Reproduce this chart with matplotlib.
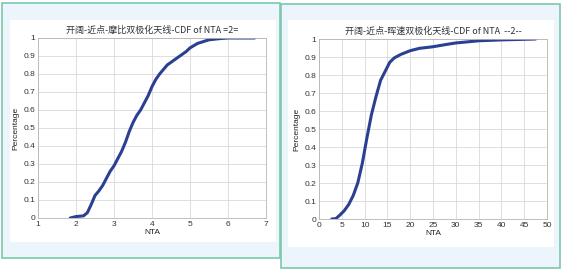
import numpy as np
import matplotlib.pyplot as plt
from matplotlib.patches import Rectangle

plt.rcParams['font.family'] = ['Liberation Sans', 'Noto Sans CJK SC', 'DejaVu Sans']

# left panel: 摩比 antenna
nta_a = [1.85, 2.0, 2.1, 2.2, 2.3, 2.4, 2.5, 2.6, 2.7, 2.8, 2.9, 3.0, 3.1, 3.2, 3.3,
         3.4, 3.5, 3.6, 3.7, 3.8, 3.9, 4.0, 4.1, 4.2, 4.3, 4.4, 4.5, 4.7, 4.9, 5.0,
         5.2, 5.5, 5.8, 6.0, 6.7]
cdf_a = [0.0, 0.008, 0.01, 0.012, 0.03, 0.075, 0.125, 0.15, 0.18, 0.22, 0.26, 0.29,
         0.33, 0.37, 0.42, 0.48, 0.53, 0.57, 0.60, 0.64, 0.68, 0.73, 0.77, 0.80, 0.825,
         0.85, 0.865, 0.895, 0.925, 0.945, 0.97, 0.99, 0.997, 1.0, 1.0]

# right panel: 晖速 antenna
nta_b = [2.8, 3.7, 4.5, 5.5, 6.5, 7.5, 8.5, 9.5, 10.5, 11.5, 12.5, 13.5, 14.5, 15.5,
         16.5, 18, 20, 22, 25, 28, 30, 35, 40, 47.5]
cdf_b = [0.0, 0.002, 0.02, 0.045, 0.08, 0.13, 0.2, 0.31, 0.45, 0.58, 0.68, 0.77,
         0.82, 0.87, 0.895, 0.915, 0.935, 0.948, 0.957, 0.97, 0.978, 0.99, 0.995, 1.0]

titles = ['开阔-近点-摩比双极化天线-CDF of NTA =2=',
          '开阔-近点-晖速双极化天线-CDF of NTA  --2--']

W, H = 562, 271
fig = plt.figure(figsize=(W / 100, H / 100), dpi=100)
fig.patch.set_facecolor('white')


def box(x0, y0, x1, y1, **kw):
    fig.patches.append(Rectangle((x0 / W, 1 - y1 / H), (x1 - x0) / W, (y1 - y0) / H,
                                 transform=fig.transFigure, figure=fig, zorder=-10, **kw))


# light blue panels with green frames, white plotting cards
box(2, 3, 280, 258, facecolor='#edf5fc', edgecolor='#7cc8ad', linewidth=1.2)
box(281, 4, 560, 268, facecolor='#edf5fc', edgecolor='#7cc8ad', linewidth=1.2)
box(10, 20, 276, 242, facecolor='white', edgecolor='none')
box(288, 20, 554, 247, facecolor='white', edgecolor='none')


def make_axes(x0, y0, x1, y1):
    return fig.add_axes([x0 / W, 1 - y1 / H, (x1 - x0) / W, (y1 - y0) / H])


ax1 = make_axes(38, 38, 266, 218)
ax2 = make_axes(319, 39, 547, 219)

line_color = '#2b3f93'
for ax, x, y, title, xlim, xticks in [
        (ax1, nta_a, cdf_a, titles[0], (1, 7), np.arange(1, 8)),
        (ax2, nta_b, cdf_b, titles[1], (0, 50), np.arange(0, 51, 5))]:
    ax.plot(x, y, color=line_color, linewidth=2.2, solid_capstyle='round')
    ax.set_xlim(*xlim)
    ax.set_ylim(0, 1)
    ax.set_xticks(xticks)
    ax.set_yticks(np.round(np.arange(0, 1.01, 0.1), 1))
    ax.set_yticklabels(['0', '0.1', '0.2', '0.3', '0.4', '0.5', '0.6', '0.7',
                        '0.8', '0.9', '1'])
    ax.grid(True, color='#d9d9d9', linewidth=0.6)
    ax.tick_params(labelsize=6, length=0, pad=2, colors='#333333')
    for s in ax.spines.values():
        s.set_color('#b5b5b5')
        s.set_linewidth(0.6)
    ax.set_title(title, fontsize=6.5, color='#333333', pad=4,
                 family=['Noto Sans CJK SC', 'DejaVu Sans'])
    ax.set_xlabel('NTA', fontsize=6, color='#222222', labelpad=1)
    ax.set_ylabel('Percentage', fontsize=6, color='#222222', labelpad=3)

fig.savefig('out.png', dpi=100)
